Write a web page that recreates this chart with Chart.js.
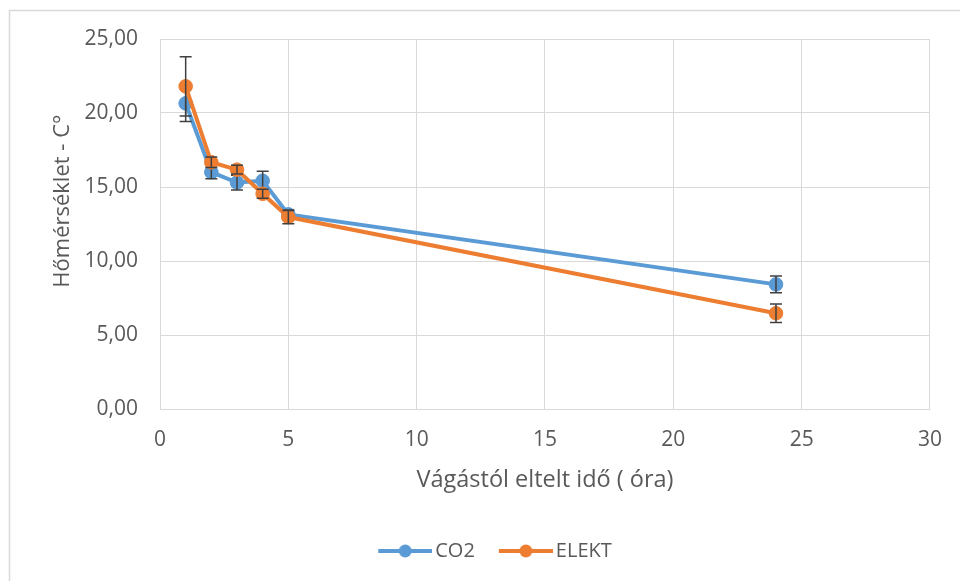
<!DOCTYPE html>
<html>
<head>
<meta charset="utf-8">
<script src="https://cdn.jsdelivr.net/npm/chart.js@4"></script>
<style>
html,body{margin:0;padding:0;background:#fff;}
#wrap{width:960px;height:581px;position:relative;}
</style>
</head>
<body>
<div id="wrap"><canvas id="c" width="960" height="581"></canvas></div>
<script>
// ---- data ----
const hours = [1, 2, 3, 4, 5, 24];
const co2Values = [20.65, 16.0, 15.3, 15.42, 13.15, 8.42];
const co2Errors = [1.22, 0.45, 0.5, 0.65, 0.3, 0.57];
const elektValues = [21.8, 16.67, 16.17, 14.54, 12.97, 6.47];
const elektErrors = [2.0, 0.35, 0.3, 0.3, 0.45, 0.62];
const seriesNames = ['CO2', 'ELEKT'];
const xTickValues = [0, 5, 10, 15, 20, 25, 30];
const yTickLabels = ['0,00', '5,00', '10,00', '15,00', '20,00', '25,00'];
const xTitle = 'Vágástól eltelt idő ( óra)';
const yTitle = 'Hőmérséklet - C°';

const BLUE = '#5B9BD5';
const ORANGE = '#ED7D31';
const TEXT = '#595959';
const GRID = '#D9D9D9';
const FONT = "'Open Sans', sans-serif";

function legendImage(color) {
  const c = document.createElement('canvas');
  c.width = 75; c.height = 16;
  const g = c.getContext('2d');
  g.strokeStyle = color; g.lineWidth = 4;
  g.beginPath(); g.moveTo(21, 8); g.lineTo(75, 8); g.stroke();
  g.fillStyle = color;
  g.beginPath(); g.arc(48, 8, 6.5, 0, Math.PI * 2); g.fill();
  return c;
}
const legendImgs = [legendImage(BLUE), legendImage(ORANGE)];

const errorBars = {
  id: 'errorBars',
  afterDatasetDraw(chart, args) {
    const ds = chart.data.datasets[args.index];
    if (!ds.errors) return;
    const ctx = chart.ctx;
    const xs = chart.scales.x, ys = chart.scales.y;
    ctx.save();
    ctx.strokeStyle = '#404040';
    ctx.lineWidth = 1.5;
    ds.data.forEach((p, i) => {
      const e = ds.errors[i];
      const px = xs.getPixelForValue(p.x);
      const y1 = ys.getPixelForValue(p.y + e);
      const y2 = ys.getPixelForValue(p.y - e);
      ctx.beginPath();
      ctx.moveTo(px, y1); ctx.lineTo(px, y2);
      ctx.moveTo(px - 6, y1); ctx.lineTo(px + 6, y1);
      ctx.moveTo(px - 6, y2); ctx.lineTo(px + 6, y2);
      ctx.stroke();
    });
    ctx.restore();
  }
};

const frame = {
  id: 'frame',
  beforeDraw(chart) {
    const ctx = chart.ctx;
    ctx.save();
    ctx.fillStyle = '#fff';
    ctx.fillRect(0, 0, chart.width, chart.height);
    ctx.strokeStyle = GRID;
    ctx.lineWidth = 1.5;
    ctx.strokeRect(9.5, 10.5, 1000, 700);
    ctx.restore();
  }
};

const mk = (vals) => hours.map((h, i) => ({ x: h, y: vals[i] }));

new Chart(document.getElementById('c'), {
  type: 'line',
  data: {
    datasets: [
      {
        label: seriesNames[0], data: mk(co2Values), errors: co2Errors,
        borderColor: BLUE, backgroundColor: BLUE, borderWidth: 4,
        pointRadius: 6.8, pointBorderWidth: 1, pointBorderColor: BLUE, pointBackgroundColor: BLUE,
        tension: 0, order: 1
      },
      {
        label: seriesNames[1], data: mk(elektValues), errors: elektErrors,
        borderColor: ORANGE, backgroundColor: ORANGE, borderWidth: 4,
        pointRadius: 6.8, pointBorderWidth: 1, pointBorderColor: ORANGE, pointBackgroundColor: ORANGE,
        tension: 0, order: 0
      }
    ]
  },
  options: {
    responsive: false,
    animation: false,
    devicePixelRatio: 1,
    layout: { padding: { left: 42, right: 26, top: 39, bottom: 10 } },
    plugins: {
      tooltip: { enabled: false },
      legend: {
        position: 'bottom',
        labels: {
          color: TEXT,
          font: { family: FONT, size: 20 },
          usePointStyle: true,
          pointStyleWidth: 61,
          padding: 10,
          sort: (a, b) => a.datasetIndex - b.datasetIndex,
          generateLabels(chart) {
            const items = Chart.defaults.plugins.legend.labels.generateLabels(chart);
            items.forEach((it) => { it.pointStyle = legendImgs[it.datasetIndex]; });
            return items;
          }
        }
      }
    },
    scales: {
      x: {
        type: 'linear', min: 0, max: 30,
        afterBuildTicks(scale) { scale.ticks = xTickValues.map(v => ({ value: v })); },
        afterFit(scale) { scale.height = 122; },
        grid: { color: GRID, lineWidth: 1, drawTicks: false },
        border: { color: GRID },
        ticks: { color: TEXT, font: { family: FONT, size: 21 }, padding: 18, maxRotation: 0 },
        title: { display: true, text: xTitle, color: TEXT, font: { family: FONT, size: 23.5 }, padding: { top: 0, bottom: 37 } }
      },
      y: {
        min: 0, max: 25,
        afterBuildTicks(scale) { scale.ticks = yTickLabels.map((_, i) => ({ value: i * 5 })); },
        afterFit(scale) { scale.width = 118; },
        grid: { color: GRID, lineWidth: 1, drawTicks: false },
        border: { color: GRID },
        ticks: {
          color: TEXT, font: { family: FONT, size: 21 }, padding: 22,
          callback(v, i) { return yTickLabels[i]; }
        },
        title: { display: true, text: '\u00A0'.repeat(8) + yTitle, color: TEXT, font: { family: FONT, size: 22 }, padding: { top: 8, bottom: 0 } }
      }
    }
  },
  plugins: [frame, errorBars]
});
</script>
</body>
</html>
